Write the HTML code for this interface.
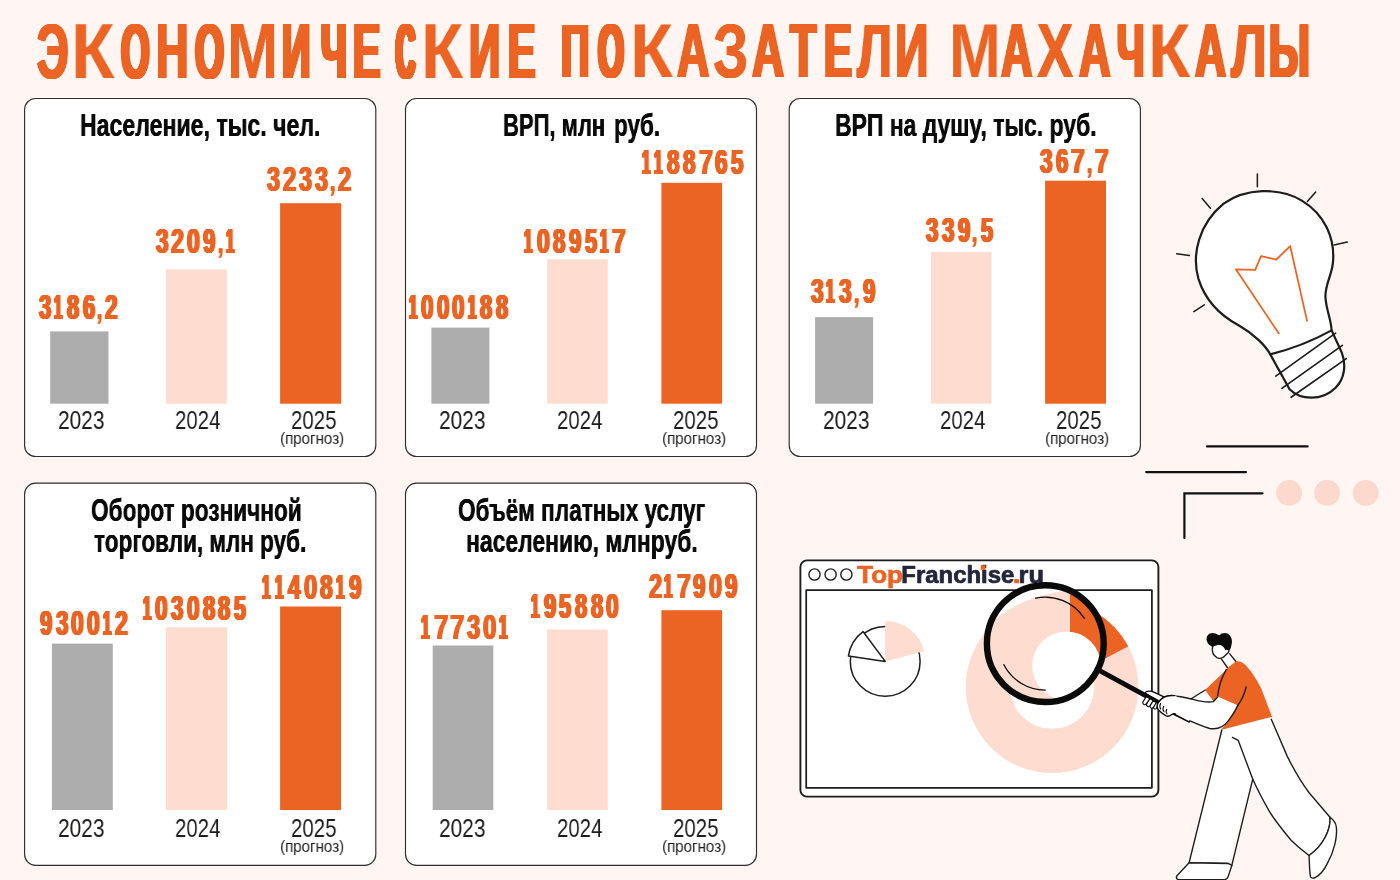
<!DOCTYPE html>
<html lang="ru"><head><meta charset="utf-8"><title>Экономические показатели Махачкалы</title>
<style>
html,body{margin:0;padding:0}
body{width:1400px;height:880px;background:#fff5f2;position:relative;overflow:hidden;font-family:"Liberation Sans",sans-serif}
.t{position:absolute;white-space:nowrap;line-height:1;transform-origin:0 0;display:block;will-change:transform}
.b{position:absolute}
.p{position:absolute;box-sizing:border-box;background:#fff;border:1.3px solid #2b2b2b;border-radius:11px}
svg.art{position:absolute;left:0;top:0}
</style></head><body>
<svg class="art" width="1400" height="880" viewBox="0 0 1400 880"><rect x="24.60" y="98.50" width="351.20" height="358.00" rx="11" fill="#fff" stroke="#2e2e2e" stroke-width="1.15"/>
<rect x="405.50" y="98.50" width="351.00" height="358.00" rx="11" fill="#fff" stroke="#2e2e2e" stroke-width="1.15"/>
<rect x="789.20" y="98.50" width="351.20" height="358.00" rx="11" fill="#fff" stroke="#2e2e2e" stroke-width="1.15"/>
<rect x="24.60" y="483.10" width="351.20" height="382.20" rx="11" fill="#fff" stroke="#2e2e2e" stroke-width="1.15"/>
<rect x="405.50" y="483.10" width="351.00" height="382.20" rx="11" fill="#fff" stroke="#2e2e2e" stroke-width="1.15"/>
<rect x="50.20" y="331.40" width="58.30" height="72.30" fill="#adadad"/>
<rect x="166.00" y="269.30" width="60.80" height="134.40" fill="#ffdcd0"/>
<rect x="280.10" y="203.20" width="61.10" height="200.50" fill="#eb6424"/>
<rect x="431.40" y="327.60" width="58.00" height="76.10" fill="#adadad"/>
<rect x="547.20" y="259.20" width="60.60" height="144.50" fill="#ffdcd0"/>
<rect x="661.40" y="182.80" width="60.70" height="220.90" fill="#eb6424"/>
<rect x="815.10" y="317.10" width="58.00" height="86.60" fill="#adadad"/>
<rect x="930.90" y="252.10" width="60.60" height="151.60" fill="#ffdcd0"/>
<rect x="1045.10" y="180.70" width="60.90" height="223.00" fill="#eb6424"/>
<rect x="51.90" y="643.60" width="60.90" height="166.40" fill="#adadad"/>
<rect x="165.90" y="627.40" width="61.20" height="182.60" fill="#ffdcd0"/>
<rect x="280.10" y="606.50" width="60.90" height="203.50" fill="#eb6424"/>
<rect x="432.70" y="645.50" width="60.60" height="164.50" fill="#adadad"/>
<rect x="547.20" y="629.50" width="60.60" height="180.50" fill="#ffdcd0"/>
<rect x="661.40" y="610.20" width="60.70" height="199.80" fill="#eb6424"/></svg>
<span class="t" style="left:37.18px;top:13px;font-size:77.09px;font-weight:700;color:#eb6424;text-shadow:0.45px 0 0 #eb6424,-0.45px 0 0 #eb6424,0.90px 0 0 #eb6424,-0.90px 0 0 #eb6424,1.35px 0 0 #eb6424,-1.35px 0 0 #eb6424,1.80px 0 0 #eb6424,-1.80px 0 0 #eb6424,2.26px 0 0 #eb6424,-2.26px 0 0 #eb6424;transform:scaleX(0.5736)">Э</span>
<span class="t" style="left:71.10px;top:13px;font-size:77.09px;font-weight:700;color:#eb6424;transform:scaleX(0.9230)">К</span>
<span class="t" style="left:120.97px;top:13px;font-size:77.09px;font-weight:700;color:#eb6424;text-shadow:0.48px 0 0 #eb6424,-0.48px 0 0 #eb6424,0.96px 0 0 #eb6424,-0.96px 0 0 #eb6424,1.45px 0 0 #eb6424,-1.45px 0 0 #eb6424,1.93px 0 0 #eb6424,-1.93px 0 0 #eb6424,2.41px 0 0 #eb6424,-2.41px 0 0 #eb6424,2.89px 0 0 #eb6424,-2.89px 0 0 #eb6424,3.37px 0 0 #eb6424,-3.37px 0 0 #eb6424,3.86px 0 0 #eb6424,-3.86px 0 0 #eb6424;transform:scaleX(0.4764)">О</span>
<span class="t" style="left:155.80px;top:13px;font-size:77.09px;font-weight:700;color:#eb6424;text-shadow:0.42px 0 0 #eb6424,-0.42px 0 0 #eb6424,0.85px 0 0 #eb6424,-0.85px 0 0 #eb6424,1.27px 0 0 #eb6424,-1.27px 0 0 #eb6424,1.70px 0 0 #eb6424,-1.70px 0 0 #eb6424,2.12px 0 0 #eb6424,-2.12px 0 0 #eb6424;transform:scaleX(0.5834)">Н</span>
<span class="t" style="left:194.63px;top:13px;font-size:77.09px;font-weight:700;color:#eb6424;text-shadow:0.47px 0 0 #eb6424,-0.47px 0 0 #eb6424,0.94px 0 0 #eb6424,-0.94px 0 0 #eb6424,1.41px 0 0 #eb6424,-1.41px 0 0 #eb6424,1.88px 0 0 #eb6424,-1.88px 0 0 #eb6424,2.35px 0 0 #eb6424,-2.35px 0 0 #eb6424,2.82px 0 0 #eb6424,-2.82px 0 0 #eb6424,3.29px 0 0 #eb6424,-3.29px 0 0 #eb6424,3.76px 0 0 #eb6424,-3.76px 0 0 #eb6424;transform:scaleX(0.4811)">О</span>
<span class="t" style="left:226.81px;top:13px;font-size:77.09px;font-weight:700;color:#eb6424;text-shadow:0.06px 0 0 #eb6424,-0.06px 0 0 #eb6424;transform:scaleX(0.7959)">М</span>
<span class="t" style="left:282.46px;top:13px;font-size:77.09px;font-weight:700;color:#eb6424;text-shadow:0.45px 0 0 #eb6424,-0.45px 0 0 #eb6424,0.91px 0 0 #eb6424,-0.91px 0 0 #eb6424,1.36px 0 0 #eb6424,-1.36px 0 0 #eb6424,1.82px 0 0 #eb6424,-1.82px 0 0 #eb6424,2.27px 0 0 #eb6424,-2.27px 0 0 #eb6424,2.73px 0 0 #eb6424,-2.73px 0 0 #eb6424,3.18px 0 0 #eb6424,-3.18px 0 0 #eb6424;transform:scaleX(0.5130)">И</span>
<span class="t" style="left:321.03px;top:13px;font-size:77.09px;font-weight:700;color:#eb6424;text-shadow:0.49px 0 0 #eb6424,-0.49px 0 0 #eb6424,0.97px 0 0 #eb6424,-0.97px 0 0 #eb6424,1.46px 0 0 #eb6424,-1.46px 0 0 #eb6424,1.95px 0 0 #eb6424,-1.95px 0 0 #eb6424,2.44px 0 0 #eb6424,-2.44px 0 0 #eb6424,2.92px 0 0 #eb6424,-2.92px 0 0 #eb6424,3.41px 0 0 #eb6424,-3.41px 0 0 #eb6424,3.90px 0 0 #eb6424,-3.90px 0 0 #eb6424;transform:scaleX(0.4744)">Ч</span>
<span class="t" style="left:353.27px;top:13px;font-size:77.09px;font-weight:700;color:#eb6424;text-shadow:0.48px 0 0 #eb6424,-0.48px 0 0 #eb6424,0.96px 0 0 #eb6424,-0.96px 0 0 #eb6424,1.44px 0 0 #eb6424,-1.44px 0 0 #eb6424,1.92px 0 0 #eb6424,-1.92px 0 0 #eb6424,2.40px 0 0 #eb6424,-2.40px 0 0 #eb6424,2.88px 0 0 #eb6424,-2.88px 0 0 #eb6424;transform:scaleX(0.5314)">Е</span>
<span class="t" style="left:396.14px;top:13px;font-size:77.09px;font-weight:700;color:#eb6424;text-shadow:0.49px 0 0 #eb6424,-0.49px 0 0 #eb6424,0.99px 0 0 #eb6424,-0.99px 0 0 #eb6424,1.48px 0 0 #eb6424,-1.48px 0 0 #eb6424,1.98px 0 0 #eb6424,-1.98px 0 0 #eb6424,2.47px 0 0 #eb6424,-2.47px 0 0 #eb6424,2.96px 0 0 #eb6424,-2.96px 0 0 #eb6424,3.46px 0 0 #eb6424,-3.46px 0 0 #eb6424,3.95px 0 0 #eb6424,-3.95px 0 0 #eb6424,4.45px 0 0 #eb6424,-4.45px 0 0 #eb6424,4.94px 0 0 #eb6424,-4.94px 0 0 #eb6424,5.43px 0 0 #eb6424,-5.43px 0 0 #eb6424,5.93px 0 0 #eb6424,-5.93px 0 0 #eb6424,6.42px 0 0 #eb6424,-6.42px 0 0 #eb6424;transform:scaleX(0.3426)">С</span>
<span class="t" style="left:420.93px;top:13px;font-size:77.09px;font-weight:700;color:#eb6424;transform:scaleX(0.8967)">К</span>
<span class="t" style="left:469.32px;top:13px;font-size:77.09px;font-weight:700;color:#eb6424;text-shadow:0.48px 0 0 #eb6424,-0.48px 0 0 #eb6424,0.96px 0 0 #eb6424,-0.96px 0 0 #eb6424,1.44px 0 0 #eb6424,-1.44px 0 0 #eb6424,1.92px 0 0 #eb6424,-1.92px 0 0 #eb6424,2.40px 0 0 #eb6424,-2.40px 0 0 #eb6424;transform:scaleX(0.5631)">И</span>
<span class="t" style="left:508.27px;top:13px;font-size:77.09px;font-weight:700;color:#eb6424;text-shadow:0.48px 0 0 #eb6424,-0.48px 0 0 #eb6424,0.96px 0 0 #eb6424,-0.96px 0 0 #eb6424,1.44px 0 0 #eb6424,-1.44px 0 0 #eb6424,1.92px 0 0 #eb6424,-1.92px 0 0 #eb6424,2.40px 0 0 #eb6424,-2.40px 0 0 #eb6424,2.88px 0 0 #eb6424,-2.88px 0 0 #eb6424;transform:scaleX(0.5314)">Е</span>
<span class="t" style="left:561.36px;top:14px;font-size:75.64px;font-weight:700;color:#eb6424;text-shadow:0.45px 0 0 #eb6424,-0.45px 0 0 #eb6424,0.89px 0 0 #eb6424,-0.89px 0 0 #eb6424,1.34px 0 0 #eb6424,-1.34px 0 0 #eb6424,1.78px 0 0 #eb6424,-1.78px 0 0 #eb6424,2.23px 0 0 #eb6424,-2.23px 0 0 #eb6424,2.68px 0 0 #eb6424,-2.68px 0 0 #eb6424,3.12px 0 0 #eb6424,-3.12px 0 0 #eb6424;transform:scaleX(0.5228)">П</span>
<span class="t" style="left:597.56px;top:14px;font-size:75.64px;font-weight:700;color:#eb6424;text-shadow:0.47px 0 0 #eb6424,-0.47px 0 0 #eb6424,0.95px 0 0 #eb6424,-0.95px 0 0 #eb6424,1.42px 0 0 #eb6424,-1.42px 0 0 #eb6424,1.90px 0 0 #eb6424,-1.90px 0 0 #eb6424,2.37px 0 0 #eb6424,-2.37px 0 0 #eb6424,2.85px 0 0 #eb6424,-2.85px 0 0 #eb6424,3.32px 0 0 #eb6424,-3.32px 0 0 #eb6424,3.80px 0 0 #eb6424,-3.80px 0 0 #eb6424,4.27px 0 0 #eb6424,-4.27px 0 0 #eb6424,4.75px 0 0 #eb6424,-4.75px 0 0 #eb6424;transform:scaleX(0.4399)">О</span>
<span class="t" style="left:630.06px;top:14px;font-size:75.64px;font-weight:700;color:#eb6424;transform:scaleX(0.9285)">К</span>
<span class="t" style="left:676.74px;top:14px;font-size:75.64px;font-weight:700;color:#eb6424;text-shadow:0.42px 0 0 #eb6424,-0.42px 0 0 #eb6424,0.85px 0 0 #eb6424,-0.85px 0 0 #eb6424,1.27px 0 0 #eb6424,-1.27px 0 0 #eb6424,1.70px 0 0 #eb6424,-1.70px 0 0 #eb6424,2.12px 0 0 #eb6424,-2.12px 0 0 #eb6424;transform:scaleX(0.5918)">А</span>
<span class="t" style="left:713.46px;top:14px;font-size:75.64px;font-weight:700;color:#eb6424;text-shadow:0.28px 0 0 #eb6424,-0.28px 0 0 #eb6424,0.57px 0 0 #eb6424,-0.57px 0 0 #eb6424;transform:scaleX(0.7436)">З</span>
<span class="t" style="left:752.07px;top:14px;font-size:75.64px;font-weight:700;color:#eb6424;text-shadow:0.44px 0 0 #eb6424,-0.44px 0 0 #eb6424,0.87px 0 0 #eb6424,-0.87px 0 0 #eb6424,1.31px 0 0 #eb6424,-1.31px 0 0 #eb6424,1.75px 0 0 #eb6424,-1.75px 0 0 #eb6424,2.19px 0 0 #eb6424,-2.19px 0 0 #eb6424;transform:scaleX(0.5868)">А</span>
<span class="t" style="left:790.04px;top:14px;font-size:75.64px;font-weight:700;color:#eb6424;text-shadow:0.48px 0 0 #eb6424,-0.48px 0 0 #eb6424,0.96px 0 0 #eb6424,-0.96px 0 0 #eb6424,1.44px 0 0 #eb6424,-1.44px 0 0 #eb6424,1.92px 0 0 #eb6424,-1.92px 0 0 #eb6424,2.41px 0 0 #eb6424,-2.41px 0 0 #eb6424;transform:scaleX(0.5704)">Т</span>
<span class="t" style="left:824.23px;top:14px;font-size:75.64px;font-weight:700;color:#eb6424;text-shadow:0.44px 0 0 #eb6424,-0.44px 0 0 #eb6424,0.88px 0 0 #eb6424,-0.88px 0 0 #eb6424,1.32px 0 0 #eb6424,-1.32px 0 0 #eb6424,1.76px 0 0 #eb6424,-1.76px 0 0 #eb6424,2.20px 0 0 #eb6424,-2.20px 0 0 #eb6424,2.63px 0 0 #eb6424,-2.63px 0 0 #eb6424;transform:scaleX(0.5543)">Е</span>
<span class="t" style="left:857.42px;top:14px;font-size:75.64px;font-weight:700;color:#eb6424;text-shadow:0.44px 0 0 #eb6424,-0.44px 0 0 #eb6424,0.87px 0 0 #eb6424,-0.87px 0 0 #eb6424,1.31px 0 0 #eb6424,-1.31px 0 0 #eb6424;transform:scaleX(0.6624)">Л</span>
<span class="t" style="left:894.78px;top:14px;font-size:75.64px;font-weight:700;color:#eb6424;text-shadow:0.46px 0 0 #eb6424,-0.46px 0 0 #eb6424,0.91px 0 0 #eb6424,-0.91px 0 0 #eb6424,1.37px 0 0 #eb6424,-1.37px 0 0 #eb6424,1.82px 0 0 #eb6424,-1.82px 0 0 #eb6424;transform:scaleX(0.6160)">И</span>
<span class="t" style="left:948.81px;top:14px;font-size:75.64px;font-weight:700;color:#eb6424;transform:scaleX(0.8208)">М</span>
<span class="t" style="left:1000.65px;top:14px;font-size:75.64px;font-weight:700;color:#eb6424;text-shadow:0.46px 0 0 #eb6424,-0.46px 0 0 #eb6424,0.93px 0 0 #eb6424,-0.93px 0 0 #eb6424,1.39px 0 0 #eb6424,-1.39px 0 0 #eb6424,1.86px 0 0 #eb6424,-1.86px 0 0 #eb6424,2.32px 0 0 #eb6424,-2.32px 0 0 #eb6424;transform:scaleX(0.5767)">А</span>
<span class="t" style="left:1036.63px;top:14px;font-size:75.64px;font-weight:700;color:#eb6424;text-shadow:0.40px 0 0 #eb6424,-0.40px 0 0 #eb6424,0.80px 0 0 #eb6424,-0.80px 0 0 #eb6424;transform:scaleX(0.7157)">Х</span>
<span class="t" style="left:1078.53px;top:14px;font-size:75.64px;font-weight:700;color:#eb6424;text-shadow:0.46px 0 0 #eb6424,-0.46px 0 0 #eb6424,0.91px 0 0 #eb6424,-0.91px 0 0 #eb6424,1.37px 0 0 #eb6424,-1.37px 0 0 #eb6424,1.83px 0 0 #eb6424,-1.83px 0 0 #eb6424,2.29px 0 0 #eb6424,-2.29px 0 0 #eb6424;transform:scaleX(0.5792)">А</span>
<span class="t" style="left:1116.94px;top:14px;font-size:75.64px;font-weight:700;color:#eb6424;text-shadow:0.47px 0 0 #eb6424,-0.47px 0 0 #eb6424,0.94px 0 0 #eb6424,-0.94px 0 0 #eb6424,1.40px 0 0 #eb6424,-1.40px 0 0 #eb6424,1.87px 0 0 #eb6424,-1.87px 0 0 #eb6424,2.34px 0 0 #eb6424,-2.34px 0 0 #eb6424,2.81px 0 0 #eb6424,-2.81px 0 0 #eb6424,3.28px 0 0 #eb6424,-3.28px 0 0 #eb6424;transform:scaleX(0.5137)">Ч</span>
<span class="t" style="left:1147.72px;top:14px;font-size:75.64px;font-weight:700;color:#eb6424;transform:scaleX(0.9163)">К</span>
<span class="t" style="left:1195.10px;top:14px;font-size:75.64px;font-weight:700;color:#eb6424;text-shadow:0.48px 0 0 #eb6424,-0.48px 0 0 #eb6424,0.97px 0 0 #eb6424,-0.97px 0 0 #eb6424,1.45px 0 0 #eb6424,-1.45px 0 0 #eb6424,1.94px 0 0 #eb6424,-1.94px 0 0 #eb6424,2.42px 0 0 #eb6424,-2.42px 0 0 #eb6424;transform:scaleX(0.5691)">А</span>
<span class="t" style="left:1230.97px;top:14px;font-size:75.64px;font-weight:700;color:#eb6424;text-shadow:0.41px 0 0 #eb6424,-0.41px 0 0 #eb6424,0.82px 0 0 #eb6424,-0.82px 0 0 #eb6424,1.23px 0 0 #eb6424,-1.23px 0 0 #eb6424;transform:scaleX(0.6706)">Л</span>
<span class="t" style="left:1268.68px;top:14px;font-size:75.64px;font-weight:700;color:#eb6424;text-shadow:0.45px 0 0 #eb6424,-0.45px 0 0 #eb6424,0.90px 0 0 #eb6424,-0.90px 0 0 #eb6424,1.35px 0 0 #eb6424,-1.35px 0 0 #eb6424,1.80px 0 0 #eb6424,-1.80px 0 0 #eb6424,2.25px 0 0 #eb6424,-2.25px 0 0 #eb6424,2.70px 0 0 #eb6424,-2.70px 0 0 #eb6424;transform:scaleX(0.5496)">Ы</span>
<span class="t" style="left:80.32px;top:110px;font-size:30.55px;font-weight:700;color:#0a0a0a;text-shadow:0.24px 0 0 #0a0a0a,-0.24px 0 0 #0a0a0a;transform:scaleX(0.7566)">Население, тыс. чел.</span>
<span class="t" style="left:38.99px;top:290px;font-size:34.77px;font-weight:700;color:#eb6424;text-shadow:0.39px 0 0 #eb6424,-0.39px 0 0 #eb6424,0.77px 0 0 #eb6424,-0.77px 0 0 #eb6424,1.16px 0 0 #eb6424,-1.16px 0 0 #eb6424,1.55px 0 0 #eb6424,-1.55px 0 0 #eb6424;transform:scaleX(0.6381)">3</span>
<span class="t" style="left:54.18px;top:290px;font-size:34.77px;font-weight:700;color:#eb6424;text-shadow:0.44px 0 0 #eb6424,-0.44px 0 0 #eb6424,0.87px 0 0 #eb6424,-0.87px 0 0 #eb6424,1.31px 0 0 #eb6424,-1.31px 0 0 #eb6424,1.75px 0 0 #eb6424,-1.75px 0 0 #eb6424,2.18px 0 0 #eb6424,-2.18px 0 0 #eb6424,2.62px 0 0 #eb6424,-2.62px 0 0 #eb6424;transform:scaleX(0.4201)">1</span>
<span class="t" style="left:66.90px;top:290px;font-size:34.77px;font-weight:700;color:#eb6424;text-shadow:0.41px 0 0 #eb6424,-0.41px 0 0 #eb6424,0.82px 0 0 #eb6424,-0.82px 0 0 #eb6424,1.23px 0 0 #eb6424,-1.23px 0 0 #eb6424,1.64px 0 0 #eb6424,-1.64px 0 0 #eb6424;transform:scaleX(0.6233)">8</span>
<span class="t" style="left:82.56px;top:290px;font-size:34.77px;font-weight:700;color:#eb6424;text-shadow:0.41px 0 0 #eb6424,-0.41px 0 0 #eb6424,0.81px 0 0 #eb6424,-0.81px 0 0 #eb6424,1.22px 0 0 #eb6424,-1.22px 0 0 #eb6424,1.63px 0 0 #eb6424,-1.63px 0 0 #eb6424;transform:scaleX(0.6255)">6</span>
<span class="t" style="left:95.92px;top:294px;font-size:29.90px;font-weight:700;color:#eb6424;text-shadow:0.37px 0 0 #eb6424,-0.37px 0 0 #eb6424;transform:scaleX(0.8164)">,</span>
<span class="t" style="left:105.22px;top:290px;font-size:34.77px;font-weight:700;color:#eb6424;text-shadow:0.48px 0 0 #eb6424,-0.48px 0 0 #eb6424,0.96px 0 0 #eb6424,-0.96px 0 0 #eb6424,1.44px 0 0 #eb6424,-1.44px 0 0 #eb6424;transform:scaleX(0.6553)">2</span>
<span class="t" style="left:155.74px;top:224px;font-size:34.77px;font-weight:700;color:#eb6424;text-shadow:0.49px 0 0 #eb6424,-0.49px 0 0 #eb6424,0.97px 0 0 #eb6424,-0.97px 0 0 #eb6424,1.46px 0 0 #eb6424,-1.46px 0 0 #eb6424;transform:scaleX(0.6514)">3</span>
<span class="t" style="left:171.37px;top:224px;font-size:34.77px;font-weight:700;color:#eb6424;text-shadow:0.45px 0 0 #eb6424,-0.45px 0 0 #eb6424,0.90px 0 0 #eb6424,-0.90px 0 0 #eb6424,1.35px 0 0 #eb6424,-1.35px 0 0 #eb6424;transform:scaleX(0.6690)">2</span>
<span class="t" style="left:187.26px;top:224px;font-size:34.77px;font-weight:700;color:#eb6424;text-shadow:0.46px 0 0 #eb6424,-0.46px 0 0 #eb6424,0.93px 0 0 #eb6424,-0.93px 0 0 #eb6424,1.39px 0 0 #eb6424,-1.39px 0 0 #eb6424;transform:scaleX(0.6622)">0</span>
<span class="t" style="left:203.41px;top:224px;font-size:34.77px;font-weight:700;color:#eb6424;text-shadow:0.39px 0 0 #eb6424,-0.39px 0 0 #eb6424,0.79px 0 0 #eb6424,-0.79px 0 0 #eb6424,1.18px 0 0 #eb6424,-1.18px 0 0 #eb6424,1.57px 0 0 #eb6424,-1.57px 0 0 #eb6424;transform:scaleX(0.6341)">9</span>
<span class="t" style="left:216.91px;top:228px;font-size:29.90px;font-weight:700;color:#eb6424;text-shadow:0.36px 0 0 #eb6424,-0.36px 0 0 #eb6424;transform:scaleX(0.8282)">,</span>
<span class="t" style="left:226.07px;top:224px;font-size:34.77px;font-weight:700;color:#eb6424;text-shadow:0.43px 0 0 #eb6424,-0.43px 0 0 #eb6424,0.86px 0 0 #eb6424,-0.86px 0 0 #eb6424,1.29px 0 0 #eb6424,-1.29px 0 0 #eb6424,1.72px 0 0 #eb6424,-1.72px 0 0 #eb6424,2.15px 0 0 #eb6424,-2.15px 0 0 #eb6424,2.58px 0 0 #eb6424,-2.58px 0 0 #eb6424;transform:scaleX(0.4270)">1</span>
<span class="t" style="left:266.68px;top:162px;font-size:34.77px;font-weight:700;color:#eb6424;text-shadow:0.45px 0 0 #eb6424,-0.45px 0 0 #eb6424,0.90px 0 0 #eb6424,-0.90px 0 0 #eb6424,1.35px 0 0 #eb6424,-1.35px 0 0 #eb6424;transform:scaleX(0.6700)">3</span>
<span class="t" style="left:282.57px;top:162px;font-size:34.77px;font-weight:700;color:#eb6424;text-shadow:0.41px 0 0 #eb6424,-0.41px 0 0 #eb6424,0.83px 0 0 #eb6424,-0.83px 0 0 #eb6424,1.24px 0 0 #eb6424,-1.24px 0 0 #eb6424;transform:scaleX(0.6884)">2</span>
<span class="t" style="left:298.99px;top:162px;font-size:34.77px;font-weight:700;color:#eb6424;text-shadow:0.45px 0 0 #eb6424,-0.45px 0 0 #eb6424,0.90px 0 0 #eb6424,-0.90px 0 0 #eb6424,1.35px 0 0 #eb6424,-1.35px 0 0 #eb6424;transform:scaleX(0.6700)">3</span>
<span class="t" style="left:315.14px;top:162px;font-size:34.77px;font-weight:700;color:#eb6424;text-shadow:0.45px 0 0 #eb6424,-0.45px 0 0 #eb6424,0.90px 0 0 #eb6424,-0.90px 0 0 #eb6424,1.35px 0 0 #eb6424,-1.35px 0 0 #eb6424;transform:scaleX(0.6700)">3</span>
<span class="t" style="left:328.95px;top:166px;font-size:29.90px;font-weight:700;color:#eb6424;text-shadow:0.36px 0 0 #eb6424,-0.36px 0 0 #eb6424;transform:scaleX(0.8449)">,</span>
<span class="t" style="left:338.42px;top:162px;font-size:34.77px;font-weight:700;color:#eb6424;text-shadow:0.41px 0 0 #eb6424,-0.41px 0 0 #eb6424,0.83px 0 0 #eb6424,-0.83px 0 0 #eb6424,1.24px 0 0 #eb6424,-1.24px 0 0 #eb6424;transform:scaleX(0.6884)">2</span>
<span class="t" style="left:502.99px;top:110px;font-size:30.55px;font-weight:700;color:#0a0a0a;text-shadow:0.25px 0 0 #0a0a0a,-0.25px 0 0 #0a0a0a;transform:scaleX(0.7205)">ВРП, млн</span>
<span class="t" style="left:614.22px;top:110px;font-size:30.55px;font-weight:700;color:#0a0a0a;text-shadow:0.24px 0 0 #0a0a0a,-0.24px 0 0 #0a0a0a;transform:scaleX(0.7365)">руб.</span>
<span class="t" style="left:408.59px;top:290px;font-size:34.77px;font-weight:700;color:#eb6424;text-shadow:0.44px 0 0 #eb6424,-0.44px 0 0 #eb6424,0.88px 0 0 #eb6424,-0.88px 0 0 #eb6424,1.31px 0 0 #eb6424,-1.31px 0 0 #eb6424,1.75px 0 0 #eb6424,-1.75px 0 0 #eb6424,2.19px 0 0 #eb6424,-2.19px 0 0 #eb6424,2.63px 0 0 #eb6424,-2.63px 0 0 #eb6424;transform:scaleX(0.4190)">1</span>
<span class="t" style="left:421.07px;top:290px;font-size:34.77px;font-weight:700;color:#eb6424;text-shadow:0.50px 0 0 #eb6424,-0.50px 0 0 #eb6424,1.00px 0 0 #eb6424,-1.00px 0 0 #eb6424,1.49px 0 0 #eb6424,-1.49px 0 0 #eb6424;transform:scaleX(0.6462)">0</span>
<span class="t" style="left:436.73px;top:290px;font-size:34.77px;font-weight:700;color:#eb6424;text-shadow:0.50px 0 0 #eb6424,-0.50px 0 0 #eb6424,1.00px 0 0 #eb6424,-1.00px 0 0 #eb6424,1.49px 0 0 #eb6424,-1.49px 0 0 #eb6424;transform:scaleX(0.6462)">0</span>
<span class="t" style="left:452.38px;top:290px;font-size:34.77px;font-weight:700;color:#eb6424;text-shadow:0.50px 0 0 #eb6424,-0.50px 0 0 #eb6424,1.00px 0 0 #eb6424,-1.00px 0 0 #eb6424,1.49px 0 0 #eb6424,-1.49px 0 0 #eb6424;transform:scaleX(0.6462)">0</span>
<span class="t" style="left:467.78px;top:290px;font-size:34.77px;font-weight:700;color:#eb6424;text-shadow:0.44px 0 0 #eb6424,-0.44px 0 0 #eb6424,0.88px 0 0 #eb6424,-0.88px 0 0 #eb6424,1.31px 0 0 #eb6424,-1.31px 0 0 #eb6424,1.75px 0 0 #eb6424,-1.75px 0 0 #eb6424,2.19px 0 0 #eb6424,-2.19px 0 0 #eb6424,2.63px 0 0 #eb6424,-2.63px 0 0 #eb6424;transform:scaleX(0.4190)">1</span>
<span class="t" style="left:480.47px;top:290px;font-size:34.77px;font-weight:700;color:#eb6424;text-shadow:0.41px 0 0 #eb6424,-0.41px 0 0 #eb6424,0.83px 0 0 #eb6424,-0.83px 0 0 #eb6424,1.24px 0 0 #eb6424,-1.24px 0 0 #eb6424,1.66px 0 0 #eb6424,-1.66px 0 0 #eb6424;transform:scaleX(0.6212)">8</span>
<span class="t" style="left:496.13px;top:290px;font-size:34.77px;font-weight:700;color:#eb6424;text-shadow:0.41px 0 0 #eb6424,-0.41px 0 0 #eb6424,0.83px 0 0 #eb6424,-0.83px 0 0 #eb6424,1.24px 0 0 #eb6424,-1.24px 0 0 #eb6424,1.66px 0 0 #eb6424,-1.66px 0 0 #eb6424;transform:scaleX(0.6212)">8</span>
<span class="t" style="left:524.37px;top:224px;font-size:34.77px;font-weight:700;color:#eb6424;text-shadow:0.43px 0 0 #eb6424,-0.43px 0 0 #eb6424,0.86px 0 0 #eb6424,-0.86px 0 0 #eb6424,1.29px 0 0 #eb6424,-1.29px 0 0 #eb6424,1.72px 0 0 #eb6424,-1.72px 0 0 #eb6424,2.15px 0 0 #eb6424,-2.15px 0 0 #eb6424,2.58px 0 0 #eb6424,-2.58px 0 0 #eb6424;transform:scaleX(0.4265)">1</span>
<span class="t" style="left:536.98px;top:224px;font-size:34.77px;font-weight:700;color:#eb6424;text-shadow:0.47px 0 0 #eb6424,-0.47px 0 0 #eb6424,0.93px 0 0 #eb6424,-0.93px 0 0 #eb6424,1.40px 0 0 #eb6424,-1.40px 0 0 #eb6424;transform:scaleX(0.6613)">0</span>
<span class="t" style="left:553.07px;top:224px;font-size:34.77px;font-weight:700;color:#eb6424;text-shadow:0.39px 0 0 #eb6424,-0.39px 0 0 #eb6424,0.78px 0 0 #eb6424,-0.78px 0 0 #eb6424,1.17px 0 0 #eb6424,-1.17px 0 0 #eb6424,1.56px 0 0 #eb6424,-1.56px 0 0 #eb6424;transform:scaleX(0.6356)">8</span>
<span class="t" style="left:568.99px;top:224px;font-size:34.77px;font-weight:700;color:#eb6424;text-shadow:0.39px 0 0 #eb6424,-0.39px 0 0 #eb6424,0.79px 0 0 #eb6424,-0.79px 0 0 #eb6424,1.18px 0 0 #eb6424,-1.18px 0 0 #eb6424,1.58px 0 0 #eb6424,-1.58px 0 0 #eb6424;transform:scaleX(0.6332)">9</span>
<span class="t" style="left:584.89px;top:224px;font-size:34.77px;font-weight:700;color:#eb6424;text-shadow:0.41px 0 0 #eb6424,-0.41px 0 0 #eb6424,0.81px 0 0 #eb6424,-0.81px 0 0 #eb6424,1.22px 0 0 #eb6424,-1.22px 0 0 #eb6424,1.62px 0 0 #eb6424,-1.62px 0 0 #eb6424;transform:scaleX(0.6265)">5</span>
<span class="t" style="left:600.23px;top:224px;font-size:34.77px;font-weight:700;color:#eb6424;text-shadow:0.43px 0 0 #eb6424,-0.43px 0 0 #eb6424,0.86px 0 0 #eb6424,-0.86px 0 0 #eb6424,1.29px 0 0 #eb6424,-1.29px 0 0 #eb6424,1.72px 0 0 #eb6424,-1.72px 0 0 #eb6424,2.15px 0 0 #eb6424,-2.15px 0 0 #eb6424,2.58px 0 0 #eb6424,-2.58px 0 0 #eb6424;transform:scaleX(0.4265)">1</span>
<span class="t" style="left:612.40px;top:224px;font-size:34.77px;font-weight:700;color:#eb6424;text-shadow:0.38px 0 0 #eb6424,-0.38px 0 0 #eb6424,0.76px 0 0 #eb6424,-0.76px 0 0 #eb6424,1.14px 0 0 #eb6424,-1.14px 0 0 #eb6424;transform:scaleX(0.7064)">7</span>
<span class="t" style="left:641.86px;top:145px;font-size:34.77px;font-weight:700;color:#eb6424;text-shadow:0.42px 0 0 #eb6424,-0.42px 0 0 #eb6424,0.85px 0 0 #eb6424,-0.85px 0 0 #eb6424,1.27px 0 0 #eb6424,-1.27px 0 0 #eb6424,1.70px 0 0 #eb6424,-1.70px 0 0 #eb6424,2.12px 0 0 #eb6424,-2.12px 0 0 #eb6424,2.55px 0 0 #eb6424,-2.55px 0 0 #eb6424;transform:scaleX(0.4317)">1</span>
<span class="t" style="left:654.36px;top:145px;font-size:34.77px;font-weight:700;color:#eb6424;text-shadow:0.42px 0 0 #eb6424,-0.42px 0 0 #eb6424,0.85px 0 0 #eb6424,-0.85px 0 0 #eb6424,1.27px 0 0 #eb6424,-1.27px 0 0 #eb6424,1.70px 0 0 #eb6424,-1.70px 0 0 #eb6424,2.12px 0 0 #eb6424,-2.12px 0 0 #eb6424,2.55px 0 0 #eb6424,-2.55px 0 0 #eb6424;transform:scaleX(0.4317)">1</span>
<span class="t" style="left:667.28px;top:145px;font-size:34.77px;font-weight:700;color:#eb6424;text-shadow:0.50px 0 0 #eb6424,-0.50px 0 0 #eb6424,1.00px 0 0 #eb6424,-1.00px 0 0 #eb6424,1.50px 0 0 #eb6424,-1.50px 0 0 #eb6424;transform:scaleX(0.6457)">8</span>
<span class="t" style="left:683.30px;top:145px;font-size:34.77px;font-weight:700;color:#eb6424;text-shadow:0.50px 0 0 #eb6424,-0.50px 0 0 #eb6424,1.00px 0 0 #eb6424,-1.00px 0 0 #eb6424,1.50px 0 0 #eb6424,-1.50px 0 0 #eb6424;transform:scaleX(0.6457)">8</span>
<span class="t" style="left:698.65px;top:145px;font-size:34.77px;font-weight:700;color:#eb6424;text-shadow:0.36px 0 0 #eb6424,-0.36px 0 0 #eb6424,0.72px 0 0 #eb6424,-0.72px 0 0 #eb6424,1.09px 0 0 #eb6424,-1.09px 0 0 #eb6424;transform:scaleX(0.7174)">7</span>
<span class="t" style="left:715.31px;top:145px;font-size:34.77px;font-weight:700;color:#eb6424;text-shadow:0.49px 0 0 #eb6424,-0.49px 0 0 #eb6424,0.99px 0 0 #eb6424,-0.99px 0 0 #eb6424,1.48px 0 0 #eb6424,-1.48px 0 0 #eb6424;transform:scaleX(0.6482)">6</span>
<span class="t" style="left:731.44px;top:145px;font-size:34.77px;font-weight:700;color:#eb6424;text-shadow:0.39px 0 0 #eb6424,-0.39px 0 0 #eb6424,0.78px 0 0 #eb6424,-0.78px 0 0 #eb6424,1.17px 0 0 #eb6424,-1.17px 0 0 #eb6424,1.56px 0 0 #eb6424,-1.56px 0 0 #eb6424;transform:scaleX(0.6364)">5</span>
<span class="t" style="left:834.63px;top:110px;font-size:30.55px;font-weight:700;color:#0a0a0a;text-shadow:0.24px 0 0 #0a0a0a,-0.24px 0 0 #0a0a0a;transform:scaleX(0.7509)">ВРП на душу, тыс. руб.</span>
<span class="t" style="left:811.03px;top:274px;font-size:34.77px;font-weight:700;color:#eb6424;text-shadow:0.48px 0 0 #eb6424,-0.48px 0 0 #eb6424,0.96px 0 0 #eb6424,-0.96px 0 0 #eb6424,1.44px 0 0 #eb6424,-1.44px 0 0 #eb6424;transform:scaleX(0.6539)">3</span>
<span class="t" style="left:826.49px;top:274px;font-size:34.77px;font-weight:700;color:#eb6424;text-shadow:0.43px 0 0 #eb6424,-0.43px 0 0 #eb6424,0.86px 0 0 #eb6424,-0.86px 0 0 #eb6424,1.28px 0 0 #eb6424,-1.28px 0 0 #eb6424,1.71px 0 0 #eb6424,-1.71px 0 0 #eb6424,2.14px 0 0 #eb6424,-2.14px 0 0 #eb6424,2.57px 0 0 #eb6424,-2.57px 0 0 #eb6424;transform:scaleX(0.4283)">1</span>
<span class="t" style="left:839.38px;top:274px;font-size:34.77px;font-weight:700;color:#eb6424;text-shadow:0.48px 0 0 #eb6424,-0.48px 0 0 #eb6424,0.96px 0 0 #eb6424,-0.96px 0 0 #eb6424,1.44px 0 0 #eb6424,-1.44px 0 0 #eb6424;transform:scaleX(0.6539)">3</span>
<span class="t" style="left:852.94px;top:278px;font-size:29.90px;font-weight:700;color:#eb6424;text-shadow:0.36px 0 0 #eb6424,-0.36px 0 0 #eb6424;transform:scaleX(0.8305)">,</span>
<span class="t" style="left:862.60px;top:274px;font-size:34.77px;font-weight:700;color:#eb6424;text-shadow:0.39px 0 0 #eb6424,-0.39px 0 0 #eb6424,0.78px 0 0 #eb6424,-0.78px 0 0 #eb6424,1.17px 0 0 #eb6424,-1.17px 0 0 #eb6424,1.55px 0 0 #eb6424,-1.55px 0 0 #eb6424;transform:scaleX(0.6366)">9</span>
<span class="t" style="left:925.97px;top:213px;font-size:34.77px;font-weight:700;color:#eb6424;text-shadow:0.38px 0 0 #eb6424,-0.38px 0 0 #eb6424,0.76px 0 0 #eb6424,-0.76px 0 0 #eb6424,1.14px 0 0 #eb6424,-1.14px 0 0 #eb6424,1.51px 0 0 #eb6424,-1.51px 0 0 #eb6424;transform:scaleX(0.6428)">3</span>
<span class="t" style="left:941.73px;top:213px;font-size:34.77px;font-weight:700;color:#eb6424;text-shadow:0.38px 0 0 #eb6424,-0.38px 0 0 #eb6424,0.76px 0 0 #eb6424,-0.76px 0 0 #eb6424,1.14px 0 0 #eb6424,-1.14px 0 0 #eb6424,1.51px 0 0 #eb6424,-1.51px 0 0 #eb6424;transform:scaleX(0.6428)">3</span>
<span class="t" style="left:957.51px;top:213px;font-size:34.77px;font-weight:700;color:#eb6424;text-shadow:0.41px 0 0 #eb6424,-0.41px 0 0 #eb6424,0.81px 0 0 #eb6424,-0.81px 0 0 #eb6424,1.22px 0 0 #eb6424,-1.22px 0 0 #eb6424,1.63px 0 0 #eb6424,-1.63px 0 0 #eb6424;transform:scaleX(0.6256)">9</span>
<span class="t" style="left:970.87px;top:217px;font-size:29.90px;font-weight:700;color:#eb6424;text-shadow:0.37px 0 0 #eb6424,-0.37px 0 0 #eb6424;transform:scaleX(0.8206)">,</span>
<span class="t" style="left:980.51px;top:213px;font-size:34.77px;font-weight:700;color:#eb6424;text-shadow:0.42px 0 0 #eb6424,-0.42px 0 0 #eb6424,0.84px 0 0 #eb6424,-0.84px 0 0 #eb6424,1.26px 0 0 #eb6424,-1.26px 0 0 #eb6424,1.67px 0 0 #eb6424,-1.67px 0 0 #eb6424;transform:scaleX(0.6190)">5</span>
<span class="t" style="left:1040.45px;top:144px;font-size:34.77px;font-weight:700;color:#eb6424;text-shadow:0.49px 0 0 #eb6424,-0.49px 0 0 #eb6424,0.98px 0 0 #eb6424,-0.98px 0 0 #eb6424,1.47px 0 0 #eb6424,-1.47px 0 0 #eb6424;transform:scaleX(0.6501)">3</span>
<span class="t" style="left:1056.26px;top:144px;font-size:34.77px;font-weight:700;color:#eb6424;text-shadow:0.39px 0 0 #eb6424,-0.39px 0 0 #eb6424,0.77px 0 0 #eb6424,-0.77px 0 0 #eb6424,1.16px 0 0 #eb6424,-1.16px 0 0 #eb6424,1.55px 0 0 #eb6424,-1.55px 0 0 #eb6424;transform:scaleX(0.6376)">6</span>
<span class="t" style="left:1071.49px;top:144px;font-size:34.77px;font-weight:700;color:#eb6424;text-shadow:0.38px 0 0 #eb6424,-0.38px 0 0 #eb6424,0.76px 0 0 #eb6424,-0.76px 0 0 #eb6424,1.15px 0 0 #eb6424,-1.15px 0 0 #eb6424;transform:scaleX(0.7060)">7</span>
<span class="t" style="left:1085.68px;top:148px;font-size:29.90px;font-weight:700;color:#eb6424;text-shadow:0.36px 0 0 #eb6424,-0.36px 0 0 #eb6424;transform:scaleX(0.8271)">,</span>
<span class="t" style="left:1094.61px;top:144px;font-size:34.77px;font-weight:700;color:#eb6424;text-shadow:0.38px 0 0 #eb6424,-0.38px 0 0 #eb6424,0.76px 0 0 #eb6424,-0.76px 0 0 #eb6424,1.15px 0 0 #eb6424,-1.15px 0 0 #eb6424;transform:scaleX(0.7060)">7</span>
<span class="t" style="left:91.27px;top:495px;font-size:30.55px;font-weight:700;color:#0a0a0a;text-shadow:0.24px 0 0 #0a0a0a,-0.24px 0 0 #0a0a0a;transform:scaleX(0.7414)">Оборот розничной</span>
<span class="t" style="left:94.06px;top:526px;font-size:30.55px;font-weight:700;color:#0a0a0a;text-shadow:0.24px 0 0 #0a0a0a,-0.24px 0 0 #0a0a0a;transform:scaleX(0.7374)">торговли, млн руб.</span>
<span class="t" style="left:40.15px;top:606px;font-size:34.77px;font-weight:700;color:#eb6424;text-shadow:0.40px 0 0 #eb6424,-0.40px 0 0 #eb6424,0.80px 0 0 #eb6424,-0.80px 0 0 #eb6424,1.21px 0 0 #eb6424,-1.21px 0 0 #eb6424,1.61px 0 0 #eb6424,-1.61px 0 0 #eb6424;transform:scaleX(0.6285)">9</span>
<span class="t" style="left:55.92px;top:606px;font-size:34.77px;font-weight:700;color:#eb6424;text-shadow:0.50px 0 0 #eb6424,-0.50px 0 0 #eb6424,1.00px 0 0 #eb6424,-1.00px 0 0 #eb6424,1.50px 0 0 #eb6424,-1.50px 0 0 #eb6424;transform:scaleX(0.6458)">3</span>
<span class="t" style="left:71.48px;top:606px;font-size:34.77px;font-weight:700;color:#eb6424;text-shadow:0.48px 0 0 #eb6424,-0.48px 0 0 #eb6424,0.95px 0 0 #eb6424,-0.95px 0 0 #eb6424,1.43px 0 0 #eb6424,-1.43px 0 0 #eb6424;transform:scaleX(0.6564)">0</span>
<span class="t" style="left:87.28px;top:606px;font-size:34.77px;font-weight:700;color:#eb6424;text-shadow:0.48px 0 0 #eb6424,-0.48px 0 0 #eb6424,0.95px 0 0 #eb6424,-0.95px 0 0 #eb6424,1.43px 0 0 #eb6424,-1.43px 0 0 #eb6424;transform:scaleX(0.6564)">0</span>
<span class="t" style="left:102.85px;top:606px;font-size:34.77px;font-weight:700;color:#eb6424;text-shadow:0.43px 0 0 #eb6424,-0.43px 0 0 #eb6424,0.86px 0 0 #eb6424,-0.86px 0 0 #eb6424,1.30px 0 0 #eb6424,-1.30px 0 0 #eb6424,1.73px 0 0 #eb6424,-1.73px 0 0 #eb6424,2.16px 0 0 #eb6424,-2.16px 0 0 #eb6424,2.59px 0 0 #eb6424,-2.59px 0 0 #eb6424;transform:scaleX(0.4241)">1</span>
<span class="t" style="left:115.40px;top:606px;font-size:34.77px;font-weight:700;color:#eb6424;text-shadow:0.46px 0 0 #eb6424,-0.46px 0 0 #eb6424,0.93px 0 0 #eb6424,-0.93px 0 0 #eb6424,1.39px 0 0 #eb6424,-1.39px 0 0 #eb6424;transform:scaleX(0.6632)">2</span>
<span class="t" style="left:142.58px;top:591px;font-size:34.77px;font-weight:700;color:#eb6424;text-shadow:0.43px 0 0 #eb6424,-0.43px 0 0 #eb6424,0.87px 0 0 #eb6424,-0.87px 0 0 #eb6424,1.30px 0 0 #eb6424,-1.30px 0 0 #eb6424,1.74px 0 0 #eb6424,-1.74px 0 0 #eb6424,2.17px 0 0 #eb6424,-2.17px 0 0 #eb6424,2.61px 0 0 #eb6424,-2.61px 0 0 #eb6424;transform:scaleX(0.4215)">1</span>
<span class="t" style="left:155.10px;top:591px;font-size:34.77px;font-weight:700;color:#eb6424;text-shadow:0.49px 0 0 #eb6424,-0.49px 0 0 #eb6424,0.97px 0 0 #eb6424,-0.97px 0 0 #eb6424,1.46px 0 0 #eb6424,-1.46px 0 0 #eb6424;transform:scaleX(0.6512)">0</span>
<span class="t" style="left:171.07px;top:591px;font-size:34.77px;font-weight:700;color:#eb6424;text-shadow:0.38px 0 0 #eb6424,-0.38px 0 0 #eb6424,0.76px 0 0 #eb6424,-0.76px 0 0 #eb6424,1.15px 0 0 #eb6424,-1.15px 0 0 #eb6424,1.53px 0 0 #eb6424,-1.53px 0 0 #eb6424;transform:scaleX(0.6407)">3</span>
<span class="t" style="left:186.56px;top:591px;font-size:34.77px;font-weight:700;color:#eb6424;text-shadow:0.49px 0 0 #eb6424,-0.49px 0 0 #eb6424,0.97px 0 0 #eb6424,-0.97px 0 0 #eb6424,1.46px 0 0 #eb6424,-1.46px 0 0 #eb6424;transform:scaleX(0.6512)">0</span>
<span class="t" style="left:202.50px;top:591px;font-size:34.77px;font-weight:700;color:#eb6424;text-shadow:0.41px 0 0 #eb6424,-0.41px 0 0 #eb6424,0.81px 0 0 #eb6424,-0.81px 0 0 #eb6424,1.22px 0 0 #eb6424,-1.22px 0 0 #eb6424,1.63px 0 0 #eb6424,-1.63px 0 0 #eb6424;transform:scaleX(0.6259)">8</span>
<span class="t" style="left:218.23px;top:591px;font-size:34.77px;font-weight:700;color:#eb6424;text-shadow:0.41px 0 0 #eb6424,-0.41px 0 0 #eb6424,0.81px 0 0 #eb6424,-0.81px 0 0 #eb6424,1.22px 0 0 #eb6424,-1.22px 0 0 #eb6424,1.63px 0 0 #eb6424,-1.63px 0 0 #eb6424;transform:scaleX(0.6259)">8</span>
<span class="t" style="left:234.04px;top:591px;font-size:34.77px;font-weight:700;color:#eb6424;text-shadow:0.42px 0 0 #eb6424,-0.42px 0 0 #eb6424,0.84px 0 0 #eb6424,-0.84px 0 0 #eb6424,1.27px 0 0 #eb6424,-1.27px 0 0 #eb6424,1.69px 0 0 #eb6424,-1.69px 0 0 #eb6424;transform:scaleX(0.6169)">5</span>
<span class="t" style="left:262.45px;top:570px;font-size:34.77px;font-weight:700;color:#eb6424;text-shadow:0.42px 0 0 #eb6424,-0.42px 0 0 #eb6424,0.84px 0 0 #eb6424,-0.84px 0 0 #eb6424,1.26px 0 0 #eb6424,-1.26px 0 0 #eb6424,1.68px 0 0 #eb6424,-1.68px 0 0 #eb6424,2.10px 0 0 #eb6424,-2.10px 0 0 #eb6424,2.52px 0 0 #eb6424,-2.52px 0 0 #eb6424;transform:scaleX(0.4358)">1</span>
<span class="t" style="left:275.04px;top:570px;font-size:34.77px;font-weight:700;color:#eb6424;text-shadow:0.42px 0 0 #eb6424,-0.42px 0 0 #eb6424,0.84px 0 0 #eb6424,-0.84px 0 0 #eb6424,1.26px 0 0 #eb6424,-1.26px 0 0 #eb6424,1.68px 0 0 #eb6424,-1.68px 0 0 #eb6424,2.10px 0 0 #eb6424,-2.10px 0 0 #eb6424,2.52px 0 0 #eb6424,-2.52px 0 0 #eb6424;transform:scaleX(0.4358)">1</span>
<span class="t" style="left:288.01px;top:570px;font-size:34.77px;font-weight:700;color:#eb6424;text-shadow:0.49px 0 0 #eb6424,-0.49px 0 0 #eb6424,0.99px 0 0 #eb6424,-0.99px 0 0 #eb6424,1.48px 0 0 #eb6424,-1.48px 0 0 #eb6424;transform:scaleX(0.6475)">4</span>
<span class="t" style="left:303.94px;top:570px;font-size:34.77px;font-weight:700;color:#eb6424;text-shadow:0.43px 0 0 #eb6424,-0.43px 0 0 #eb6424,0.86px 0 0 #eb6424,-0.86px 0 0 #eb6424,1.29px 0 0 #eb6424,-1.29px 0 0 #eb6424;transform:scaleX(0.6800)">0</span>
<span class="t" style="left:320.30px;top:570px;font-size:34.77px;font-weight:700;color:#eb6424;text-shadow:0.48px 0 0 #eb6424,-0.48px 0 0 #eb6424,0.96px 0 0 #eb6424,-0.96px 0 0 #eb6424,1.45px 0 0 #eb6424,-1.45px 0 0 #eb6424;transform:scaleX(0.6536)">8</span>
<span class="t" style="left:336.03px;top:570px;font-size:34.77px;font-weight:700;color:#eb6424;text-shadow:0.42px 0 0 #eb6424,-0.42px 0 0 #eb6424,0.84px 0 0 #eb6424,-0.84px 0 0 #eb6424,1.26px 0 0 #eb6424,-1.26px 0 0 #eb6424,1.68px 0 0 #eb6424,-1.68px 0 0 #eb6424,2.10px 0 0 #eb6424,-2.10px 0 0 #eb6424,2.52px 0 0 #eb6424,-2.52px 0 0 #eb6424;transform:scaleX(0.4358)">1</span>
<span class="t" style="left:349.07px;top:570px;font-size:34.77px;font-weight:700;color:#eb6424;text-shadow:0.49px 0 0 #eb6424,-0.49px 0 0 #eb6424,0.97px 0 0 #eb6424,-0.97px 0 0 #eb6424,1.46px 0 0 #eb6424,-1.46px 0 0 #eb6424;transform:scaleX(0.6513)">9</span>
<span class="t" style="left:457.58px;top:495px;font-size:30.55px;font-weight:700;color:#0a0a0a;text-shadow:0.24px 0 0 #0a0a0a,-0.24px 0 0 #0a0a0a;transform:scaleX(0.7390)">Объём платных услуг</span>
<span class="t" style="left:465.98px;top:526px;font-size:30.55px;font-weight:700;color:#0a0a0a;text-shadow:0.24px 0 0 #0a0a0a,-0.24px 0 0 #0a0a0a;transform:scaleX(0.7504)">населению, млнруб.</span>
<span class="t" style="left:421.34px;top:610px;font-size:34.77px;font-weight:700;color:#eb6424;text-shadow:0.50px 0 0 #eb6424,-0.50px 0 0 #eb6424,1.00px 0 0 #eb6424,-1.00px 0 0 #eb6424,1.50px 0 0 #eb6424,-1.50px 0 0 #eb6424,1.99px 0 0 #eb6424,-1.99px 0 0 #eb6424,2.49px 0 0 #eb6424,-2.49px 0 0 #eb6424;transform:scaleX(0.4413)">1</span>
<span class="t" style="left:433.75px;top:610px;font-size:34.77px;font-weight:700;color:#eb6424;text-shadow:0.49px 0 0 #eb6424,-0.49px 0 0 #eb6424,0.98px 0 0 #eb6424,-0.98px 0 0 #eb6424;transform:scaleX(0.7376)">7</span>
<span class="t" style="left:450.04px;top:610px;font-size:34.77px;font-weight:700;color:#eb6424;text-shadow:0.49px 0 0 #eb6424,-0.49px 0 0 #eb6424,0.98px 0 0 #eb6424,-0.98px 0 0 #eb6424;transform:scaleX(0.7376)">7</span>
<span class="t" style="left:467.03px;top:610px;font-size:34.77px;font-weight:700;color:#eb6424;text-shadow:0.43px 0 0 #eb6424,-0.43px 0 0 #eb6424,0.86px 0 0 #eb6424,-0.86px 0 0 #eb6424,1.29px 0 0 #eb6424,-1.29px 0 0 #eb6424;transform:scaleX(0.6792)">3</span>
<span class="t" style="left:483.06px;top:610px;font-size:34.77px;font-weight:700;color:#eb6424;text-shadow:0.41px 0 0 #eb6424,-0.41px 0 0 #eb6424,0.82px 0 0 #eb6424,-0.82px 0 0 #eb6424,1.23px 0 0 #eb6424,-1.23px 0 0 #eb6424;transform:scaleX(0.6911)">0</span>
<span class="t" style="left:499.21px;top:610px;font-size:34.77px;font-weight:700;color:#eb6424;text-shadow:0.50px 0 0 #eb6424,-0.50px 0 0 #eb6424,1.00px 0 0 #eb6424,-1.00px 0 0 #eb6424,1.50px 0 0 #eb6424,-1.50px 0 0 #eb6424,1.99px 0 0 #eb6424,-1.99px 0 0 #eb6424,2.49px 0 0 #eb6424,-2.49px 0 0 #eb6424;transform:scaleX(0.4413)">1</span>
<span class="t" style="left:530.88px;top:589px;font-size:34.77px;font-weight:700;color:#eb6424;text-shadow:0.43px 0 0 #eb6424,-0.43px 0 0 #eb6424,0.87px 0 0 #eb6424,-0.87px 0 0 #eb6424,1.30px 0 0 #eb6424,-1.30px 0 0 #eb6424,1.74px 0 0 #eb6424,-1.74px 0 0 #eb6424,2.17px 0 0 #eb6424,-2.17px 0 0 #eb6424,2.61px 0 0 #eb6424,-2.61px 0 0 #eb6424;transform:scaleX(0.4219)">1</span>
<span class="t" style="left:543.68px;top:589px;font-size:34.77px;font-weight:700;color:#eb6424;text-shadow:0.41px 0 0 #eb6424,-0.41px 0 0 #eb6424,0.82px 0 0 #eb6424,-0.82px 0 0 #eb6424,1.23px 0 0 #eb6424,-1.23px 0 0 #eb6424,1.64px 0 0 #eb6424,-1.64px 0 0 #eb6424;transform:scaleX(0.6244)">9</span>
<span class="t" style="left:559.46px;top:589px;font-size:34.77px;font-weight:700;color:#eb6424;text-shadow:0.42px 0 0 #eb6424,-0.42px 0 0 #eb6424,0.84px 0 0 #eb6424,-0.84px 0 0 #eb6424,1.26px 0 0 #eb6424,-1.26px 0 0 #eb6424,1.68px 0 0 #eb6424,-1.68px 0 0 #eb6424;transform:scaleX(0.6178)">5</span>
<span class="t" style="left:575.11px;top:589px;font-size:34.77px;font-weight:700;color:#eb6424;text-shadow:0.40px 0 0 #eb6424,-0.40px 0 0 #eb6424,0.81px 0 0 #eb6424,-0.81px 0 0 #eb6424,1.21px 0 0 #eb6424,-1.21px 0 0 #eb6424,1.62px 0 0 #eb6424,-1.62px 0 0 #eb6424;transform:scaleX(0.6269)">8</span>
<span class="t" style="left:590.85px;top:589px;font-size:34.77px;font-weight:700;color:#eb6424;text-shadow:0.40px 0 0 #eb6424,-0.40px 0 0 #eb6424,0.81px 0 0 #eb6424,-0.81px 0 0 #eb6424,1.21px 0 0 #eb6424,-1.21px 0 0 #eb6424,1.62px 0 0 #eb6424,-1.62px 0 0 #eb6424;transform:scaleX(0.6269)">8</span>
<span class="t" style="left:606.37px;top:589px;font-size:34.77px;font-weight:700;color:#eb6424;text-shadow:0.49px 0 0 #eb6424,-0.49px 0 0 #eb6424,0.97px 0 0 #eb6424,-0.97px 0 0 #eb6424,1.46px 0 0 #eb6424,-1.46px 0 0 #eb6424;transform:scaleX(0.6521)">0</span>
<span class="t" style="left:648.57px;top:569px;font-size:34.77px;font-weight:700;color:#eb6424;text-shadow:0.44px 0 0 #eb6424,-0.44px 0 0 #eb6424,0.88px 0 0 #eb6424,-0.88px 0 0 #eb6424,1.33px 0 0 #eb6424,-1.33px 0 0 #eb6424;transform:scaleX(0.6734)">2</span>
<span class="t" style="left:664.32px;top:569px;font-size:34.77px;font-weight:700;color:#eb6424;text-shadow:0.43px 0 0 #eb6424,-0.43px 0 0 #eb6424,0.85px 0 0 #eb6424,-0.85px 0 0 #eb6424,1.28px 0 0 #eb6424,-1.28px 0 0 #eb6424,1.71px 0 0 #eb6424,-1.71px 0 0 #eb6424,2.14px 0 0 #eb6424,-2.14px 0 0 #eb6424,2.56px 0 0 #eb6424,-2.56px 0 0 #eb6424;transform:scaleX(0.4291)">1</span>
<span class="t" style="left:676.53px;top:569px;font-size:34.77px;font-weight:700;color:#eb6424;text-shadow:0.37px 0 0 #eb6424,-0.37px 0 0 #eb6424,0.74px 0 0 #eb6424,-0.74px 0 0 #eb6424,1.11px 0 0 #eb6424,-1.11px 0 0 #eb6424;transform:scaleX(0.7120)">7</span>
<span class="t" style="left:693.19px;top:569px;font-size:34.77px;font-weight:700;color:#eb6424;text-shadow:0.39px 0 0 #eb6424,-0.39px 0 0 #eb6424,0.77px 0 0 #eb6424,-0.77px 0 0 #eb6424,1.16px 0 0 #eb6424,-1.16px 0 0 #eb6424,1.54px 0 0 #eb6424,-1.54px 0 0 #eb6424;transform:scaleX(0.6383)">9</span>
<span class="t" style="left:708.86px;top:569px;font-size:34.77px;font-weight:700;color:#eb6424;text-shadow:0.46px 0 0 #eb6424,-0.46px 0 0 #eb6424,0.91px 0 0 #eb6424,-0.91px 0 0 #eb6424,1.37px 0 0 #eb6424,-1.37px 0 0 #eb6424;transform:scaleX(0.6666)">0</span>
<span class="t" style="left:725.07px;top:569px;font-size:34.77px;font-weight:700;color:#eb6424;text-shadow:0.39px 0 0 #eb6424,-0.39px 0 0 #eb6424,0.77px 0 0 #eb6424,-0.77px 0 0 #eb6424,1.16px 0 0 #eb6424,-1.16px 0 0 #eb6424,1.54px 0 0 #eb6424,-1.54px 0 0 #eb6424;transform:scaleX(0.6383)">9</span>
<span class="t" style="left:58.26px;top:408px;font-size:25.72px;font-weight:400;color:#1d1d1b;transform:scaleX(0.8121)">2023</span>
<span class="t" style="left:175.48px;top:408px;font-size:25.72px;font-weight:400;color:#1d1d1b;transform:scaleX(0.7938)">2024</span>
<span class="t" style="left:291.48px;top:408px;font-size:25.72px;font-weight:400;color:#1d1d1b;transform:scaleX(0.7948)">2025</span>
<span class="t" style="left:280.46px;top:430px;font-size:17.00px;font-weight:400;color:#1d1d1b;transform:scaleX(0.8893)">(прогноз)</span>
<span class="t" style="left:439.46px;top:408px;font-size:25.72px;font-weight:400;color:#1d1d1b;transform:scaleX(0.8121)">2023</span>
<span class="t" style="left:556.68px;top:408px;font-size:25.72px;font-weight:400;color:#1d1d1b;transform:scaleX(0.7938)">2024</span>
<span class="t" style="left:672.68px;top:408px;font-size:25.72px;font-weight:400;color:#1d1d1b;transform:scaleX(0.7948)">2025</span>
<span class="t" style="left:661.66px;top:430px;font-size:17.00px;font-weight:400;color:#1d1d1b;transform:scaleX(0.8893)">(прогноз)</span>
<span class="t" style="left:823.06px;top:408px;font-size:25.72px;font-weight:400;color:#1d1d1b;transform:scaleX(0.8121)">2023</span>
<span class="t" style="left:940.28px;top:408px;font-size:25.72px;font-weight:400;color:#1d1d1b;transform:scaleX(0.7938)">2024</span>
<span class="t" style="left:1056.28px;top:408px;font-size:25.72px;font-weight:400;color:#1d1d1b;transform:scaleX(0.7948)">2025</span>
<span class="t" style="left:1045.26px;top:430px;font-size:17.00px;font-weight:400;color:#1d1d1b;transform:scaleX(0.8893)">(прогноз)</span>
<span class="t" style="left:58.26px;top:816px;font-size:25.72px;font-weight:400;color:#1d1d1b;transform:scaleX(0.8121)">2023</span>
<span class="t" style="left:175.48px;top:816px;font-size:25.72px;font-weight:400;color:#1d1d1b;transform:scaleX(0.7938)">2024</span>
<span class="t" style="left:291.48px;top:816px;font-size:25.72px;font-weight:400;color:#1d1d1b;transform:scaleX(0.7948)">2025</span>
<span class="t" style="left:280.46px;top:838px;font-size:17.00px;font-weight:400;color:#1d1d1b;transform:scaleX(0.8893)">(прогноз)</span>
<span class="t" style="left:439.46px;top:816px;font-size:25.72px;font-weight:400;color:#1d1d1b;transform:scaleX(0.8121)">2023</span>
<span class="t" style="left:556.68px;top:816px;font-size:25.72px;font-weight:400;color:#1d1d1b;transform:scaleX(0.7938)">2024</span>
<span class="t" style="left:672.68px;top:816px;font-size:25.72px;font-weight:400;color:#1d1d1b;transform:scaleX(0.7948)">2025</span>
<span class="t" style="left:661.66px;top:838px;font-size:17.00px;font-weight:400;color:#1d1d1b;transform:scaleX(0.8893)">(прогноз)</span>
<svg class="art" width="1400" height="880" viewBox="0 0 1400 880" fill="none" stroke-linecap="round" stroke-linejoin="round">
<!-- light bulb -->
<g transform="translate(1150,150) scale(0.30675)" stroke="#1d1d1b" stroke-width="7.3">
  <path d="M392,666 C378,640 340,600 290,572 C230,540 180,490 158,420 C135,340 160,240 240,175 C310,125 420,120 495,165 C570,210 605,290 596,370 C592,410 570,440 572,480 C574,520 590,550 592,588 L625,660 C640,700 635,745 605,775 C560,820 490,815 455,780 Z" fill="#fff" stroke="none"/>
  <path d="M392,666 C378,640 340,600 290,572 C230,540 180,490 158,420 C135,340 160,240 240,175 C310,125 420,120 495,165 C570,210 605,290 596,370 C592,410 570,440 572,480 C574,520 590,550 592,588"/>
  <path d="M392,666 L455,780 C490,815 560,820 605,775 C635,745 640,700 625,660 L592,588 C530,622 450,652 392,666 Z"/>
  <path d="M410,737 L605,597 M430,777 L627,637 M460,806 L640,680" stroke-width="5.6"/>
  <path d="M420,598 L280,389 L343,391 L362,346 L412,357 L457,313 L512,557" stroke="#eb6424" stroke-width="5.8"/>
  <path d="M350,78 L350,120 M170,158 L197,190 M87,338 L128,344 M143,527 L177,505 M540,137 L513,168 M600,310 L643,300" stroke-width="5"/>
</g>
<!-- decorative lines and dots -->
<g stroke="#111" stroke-width="2.2" stroke-linecap="round">
  <path d="M1207,446.4 H1307.6"/>
  <path d="M1146.2,472.1 H1246"/>
  <path d="M1184.4,538 V493.3 H1262.5" stroke-linejoin="miter"/>
</g>
<g fill="#fdd8cc"><circle cx="1289.1" cy="492.9" r="12.9"/><circle cx="1327.1" cy="492.9" r="12.9"/><circle cx="1365.7" cy="492.9" r="12.9"/></g>
<!-- browser window -->
<rect x="800.4" y="560.4" width="358" height="236.2" rx="6.5" fill="#fff" stroke="#1d1d1b" stroke-width="1.9"/>
<rect x="806.2" y="590.2" width="345.7" height="197.6" fill="#fff" stroke="#1d1d1b" stroke-width="1.75"/>
<g fill="#fff" stroke="#1d1d1b" stroke-width="1.4"><circle cx="814.5" cy="574.5" r="5.6"/><circle cx="830.6" cy="574.5" r="5.6"/><circle cx="846.4" cy="574.5" r="5.6"/></g>
<text transform="translate(857.34,582.50) scale(1.0918,1)" font-family="Liberation Sans, sans-serif" font-size="23.71" font-weight="700" fill="#eb6424" stroke="#eb6424" stroke-width="0.7" stroke-linejoin="round">Top</text><text transform="translate(901.28,582.50) scale(1.0101,1)" font-family="Liberation Sans, sans-serif" font-size="23.71" font-weight="700" fill="#23263a" stroke="#23263a" stroke-width="0.7" stroke-linejoin="round">Franchise</text><text transform="translate(1012.66,582.50) scale(1.2135,1)" font-family="Liberation Sans, sans-serif" font-size="23.71" font-weight="700" fill="#eb6424" stroke="#eb6424" stroke-width="0.7" stroke-linejoin="round">.</text><text transform="translate(1018.55,582.50) scale(1.0714,1)" font-family="Liberation Sans, sans-serif" font-size="23.71" font-weight="700" fill="#23263a" stroke="#23263a" stroke-width="0.7" stroke-linejoin="round">ru</text>
<rect x="980.7" y="565.2" width="4.7" height="4.6" fill="#eb6424"/>
<!-- small pie -->
<g transform="translate(885.2,661.4)">
  <circle r="34.9" fill="#fff" stroke="#1d1d1b" stroke-width="1.5"/>
  <path d="M0,0 L0,-40.5 A40.5,40.5 0 0 1 39.14,-10.41 Z" fill="#ffdcd0"/>
  <path d="M0,0 L-22.18,-29.87 A37.2,37.2 0 0 0 -36.82,-5.31 Z" fill="#fff" stroke="#1d1d1b" stroke-width="1.5"/>
</g>
<!-- big donut -->
<g transform="translate(1052.1,686.8)">
  <circle r="64.15" stroke="#ffdcd0" stroke-width="44.3"/>
  <path d="M0,-86.3 A86.3,86.3 0 0 1 76.2,-40.52 L37.08,-19.72 A42,42 0 0 0 0,-42 Z" fill="#eb6424"/>
</g>
<!-- magnifier handle -->
<!-- magnifier lens -->
<clipPath id="lens"><circle cx="1045.3" cy="643.6" r="58"/></clipPath>
<g clip-path="url(#lens)">
  <rect x="980" y="580" width="130" height="130" fill="#fff"/>
  <circle cx="1082.8" cy="735.8" r="146.2" fill="#ffdcd0"/>
  <path d="M1070,665.5 L1070,585 L1150,585 L1150,640 Z" fill="#eb6424"/>
  <circle cx="1066.5" cy="665.7" r="34.3" fill="#fff"/>
</g>
<circle cx="1045.3" cy="643.6" r="58.4" stroke="#0a0a0a" stroke-width="6.4"/>
<path d="M1035.6,598.1 A46.5,46.5 0 0 1 1084.3,618.3" stroke="#0a0a0a" stroke-width="1.3"/>
<path d="M1045.3,690.1 A46.5,46.5 0 0 1 1003.9,664.7" stroke="#0a0a0a" stroke-width="1.3"/>
<!-- person -->
<g transform="translate(1160,720) scale(0.181818)" stroke="#1d1d1b" stroke-width="7.6" fill="#fff">
  <!-- back (right) leg -->
  <path d="M610,-10 L700,200 C740,280 790,360 820,400 L935,535 C940,600 900,690 820,745 C780,715 750,690 720,660 C670,600 630,550 600,500 C560,430 530,370 510,325 L430,112 L340,55 L345,0 Z" stroke="none"/>
  <path d="M612,-4 L700,200 C740,280 790,360 820,400 L935,535 C940,600 900,690 820,745 C780,715 750,690 720,660 C670,600 630,550 600,500 C560,430 530,370 510,325" fill="none"/>
  <!-- back shoe -->
  <path d="M935,535 C955,550 968,570 970,590 C975,640 960,720 920,790 C900,830 875,855 855,866 C845,872 832,872 828,862 C822,840 822,790 820,745 C900,690 940,600 935,535 Z"/>
  <!-- front (left) leg -->
  <path d="M340,55 L160,785 L375,789 L510,325 L430,112 L398,95 L345,40 Z" stroke="none"/>
  <path d="M340,55 L160,785 L375,789 M395,800 L510,325 L430,112 L398,95" fill="none"/>
  <!-- front shoe -->
  <path d="M160,785 L92,858 C88,868 92,876 102,878 L355,878 C368,876 372,870 375,860 L395,800 L375,789 Z"/>
</g>
<g transform="translate(1130,620) scale(0.136426)" stroke="#1d1d1b" stroke-width="10.2" fill="#fff">
  <!-- neck -->
  <path d="M668,283 L716,352 L778,306 L731,248 Z" stroke="none"/><path d="M668,283 L716,352 M778,306 L731,248" fill="none"/>
  <!-- face -->
  <path d="M606,190 C598,230 610,262 640,277 C662,286 682,280 696,262 L722,236 C728,222 722,212 712,216 L700,160 Z"/>
  <!-- hair -->
  <path d="M563,152 C553,112 588,84 625,99 C640,104 650,112 656,112 C672,94 702,90 722,104 C747,120 753,160 743,186 C739,206 736,216 726,223 L714,214 C708,214 704,220 702,226 C692,202 680,186 650,181 C630,180 616,190 608,198 C588,190 568,176 563,152 Z" fill="#0a0a0a" stroke="none"/>
  <!-- far arm -->
  <path d="M552,513 L445,578 L300,600 L620,600 Z" stroke="none"/>
  <path d="M552,513 L448,577" fill="none"/>
  <!-- shirt -->
  <path d="M776,304 C802,299 832,314 852,336 C902,392 942,462 962,502 L1041,710 L664,806 C702,770 752,700 790,626 L640,560 L612,596 L550,514 L700,370 L716,350 Z" fill="#eb6424" stroke="none"/>
  <path d="M706,364 C672,420 650,480 641,566" fill="none"/>
  <path d="M851,490 C841,540 816,590 790,626" fill="none"/>
  <!-- near arm -->
  <path d="M612,598 C560,610 500,592 450,579 C380,561 300,548 245,566 L215,590 L200,640 L235,690 L290,700 L330,690 C400,720 500,770 585,795 C640,805 690,780 720,740 C750,700 775,660 790,626 L640,560 Z" stroke="none"/>
  <path d="M640,566 L612,598 C560,610 500,592 450,579 C380,561 300,548 245,566" fill="none"/>
  <path d="M790,626 C775,660 750,700 720,740 C690,780 640,805 585,795 C500,770 400,720 330,690" fill="none"/>
</g>
<!-- hands -->
<g transform="translate(1130,670) scale(0.079554)" stroke="#0a0a0a" stroke-width="17" fill="#fff">
  <!-- far hand back -->
  <path d="M188,290 C200,262 262,258 300,278 L425,338 L360,400 Z"/>
  <!-- handle -->
  <path d="M-440,-24 L370,416" stroke-width="62" stroke-linecap="butt" fill="none"/>
  <path d="M540,545 L742,646" stroke-width="30" fill="none"/>
  <!-- far fingers -->
  <path d="M205,335 L250,360 L200,430 C185,445 160,430 160,405 Z M250,362 L292,385 L245,455 C228,470 202,452 208,430 Z M292,387 L330,408 L290,475 C272,490 248,470 252,452 Z M330,410 L362,428 L330,485 C315,498 292,486 296,468 Z" stroke-width="14"/>
  <!-- near fist -->
  <path d="M560,322 C520,318 470,318 430,340 C400,356 372,380 355,410 C335,445 340,485 365,510 C395,540 425,565 455,578 C480,588 505,575 525,560 C540,550 555,548 570,552 L740,640 L900,500 Z" stroke="none"/>
  <path d="M560,322 C520,318 470,318 430,340 C400,356 372,380 355,410 C335,445 340,485 365,510 C395,540 425,565 455,578 C480,588 505,575 525,560 C540,550 555,548 570,552" fill="none"/>
  <path d="M385,420 C370,445 372,470 385,490 M425,455 C410,478 412,505 428,525 M462,495 C450,515 452,535 465,550" fill="none" stroke-width="13"/>
</g>
</svg>

</body></html>
